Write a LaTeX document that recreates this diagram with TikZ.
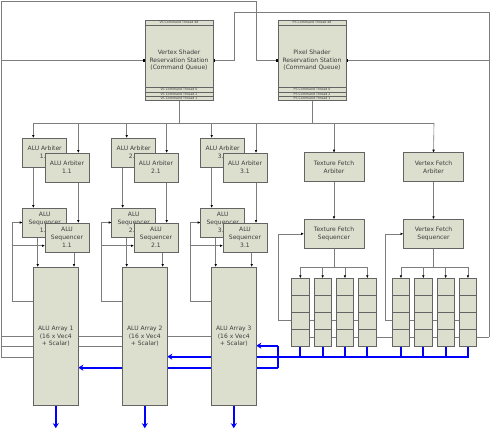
\documentclass[tikz,border=0pt]{standalone}
\usepackage{fontspec}
\setmainfont{DejaVu Sans}
\usetikzlibrary{arrows.meta}
\definecolor{boxfill}{RGB}{221,223,206}
\definecolor{boxline}{RGB}{100,100,100}
\definecolor{linegray}{RGB}{125,125,125}
\definecolor{txt}{RGB}{60,60,60}
\pgfdeclarelayer{bg}
\pgfsetlayers{bg,main}
\begin{document}
\begin{tikzpicture}[x=1pt,y=-1pt,
 box/.style={draw=boxline,fill=boxfill,line width=0.8pt,inner sep=0pt,outer sep=0pt,anchor=north west,align=center,text=txt,font=\fontsize{6}{7.7}\selectfont},
 abox/.style={box,minimum width=44pt,minimum height=29pt},
 fbox/.style={box,minimum width=60pt,minimum height=29pt},
 arrbox/.style={box,minimum width=45pt,minimum height=138.7pt},
 stripe/.style={draw=boxline,fill=boxfill,line width=0.5pt,inner sep=0pt,outer sep=0pt,anchor=north west,text=txt,font=\fontsize{3.2}{3.5}\selectfont,minimum width=68pt,minimum height=4.1pt},
 col/.style={draw=boxline,fill=boxfill,line width=0.8pt,inner sep=0pt,outer sep=0pt,anchor=north west,minimum width=17.3pt,minimum height=67.7pt},
 conn/.style={draw=linegray,line width=0.6pt},
 arr/.style={conn,-{Latex[length=3pt,width=2.6pt,color=black]}},
 dotarr/.style={conn,-{Square[length=2pt,width=2pt,color=black]}},
 bl/.style={draw=blue,line width=2pt},
 blarr/.style={bl,-{Stealth[length=5pt,width=6pt,inset=1.5pt]}},
]
\useasboundingbox (0,0) rectangle (490,431);

% ---------- shader boxes ----------
\node[box,minimum width=68pt,minimum height=79.3pt] (vs) at (145,20.7) {Vertex Shader\\Reservation Station\\(Command Queue)};
\node[stripe] (vsh) at (145,20.7) {VS Command Thread 48};
\node[stripe] (vsa) at (145,87.7) {VS Command Thread 0};
\node[stripe] (vsb) at (145,91.8) {VS Command Thread 2};
\node[stripe] (vsc) at (145,95.9) {VS Command Thread 1};
\node[box,minimum width=68pt,minimum height=79.3pt] (ps) at (278,20.7) {Pixel Shader\\Reservation Station\\(Command Queue)};
\node[stripe] (psh) at (278,20.7) {PS Command Thread 48};
\node[stripe] (psa) at (278,87.7) {PS Command Thread 0};
\node[stripe] (psb) at (278,91.8) {PS Command Thread 2};
\node[stripe] (psc) at (278,95.9) {PS Command Thread 1};

% ---------- ALU groups ----------
\node[abox] (arb10) at (22.7,138) {ALU Arbiter\\1.0};
\node[abox] (arb11) at (45,153) {ALU Arbiter\\1.1};
\node[abox] (sq10) at (22.7,208) {ALU\\Sequencer\\1.0};
\node[abox] (sq11) at (45,223) {ALU\\Sequencer\\1.1};
\node[arrbox] (arr1) at (33.3,267) {ALU Array 1\\(16 x Vec4\\+ Scalar)};

\node[abox] (arb20) at (111.7,138) {ALU Arbiter\\2.0};
\node[abox] (arb21) at (134,153) {ALU Arbiter\\2.1};
\node[abox] (sq20) at (111.7,208) {ALU\\Sequencer\\2.0};
\node[abox] (sq21) at (134,223) {ALU\\Sequencer\\2.1};
\node[arrbox] (arr2) at (122.3,267) {ALU Array 2\\(16 x Vec4\\+ Scalar)};

\node[abox] (arb30) at (200.7,138) {ALU Arbiter\\3.0};
\node[abox] (arb31) at (223,153) {ALU Arbiter\\3.1};
\node[abox] (sq30) at (200.7,208) {ALU\\Sequencer\\3.0};
\node[abox] (sq31) at (223,223) {ALU\\Sequencer\\3.1};
\node[arrbox] (arr3) at (211.3,267) {ALU Array 3\\(16 x Vec4\\+ Scalar)};

% ---------- fetch ----------
\node[fbox] (tfa) at (304,152.7) {Texture Fetch\\Arbiter};
\node[fbox] (tfs) at (304,219.3) {Texture Fetch\\Sequencer};
\node[fbox] (vfa) at (403.5,152.7) {Vertex Fetch\\Arbiter};
\node[fbox] (vfs) at (403.5,219.3) {Vertex Fetch\\Sequencer};

\foreach \i/\x in {1/291.7,2/314,3/336.3,4/358.7}{
  \node[col] (tc\i) at (\x,278.3) {};
  \foreach \k in {1,2,3}
    \draw[draw=boxline,line width=0.8pt] ({\x},{278.3+16.92*\k}) -- ({\x+17.3},{278.3+16.92*\k});
}
\foreach \i/\x in {1/392.3,2/414.7,3/437,4/459.3}{
  \node[col] (vc\i) at (\x,278.3) {};
  \foreach \k in {1,2,3}
    \draw[draw=boxline,line width=0.8pt] ({\x},{278.3+16.92*\k}) -- ({\x+17.3},{278.3+16.92*\k});
}

% ---------- coordinates ----------
\coordinate (busL) at (33.3,123);
\coordinate (busR) at (434,123);
\coordinate (Ltop) at (1,1);
\coordinate (Lbot) at (1,357);
\coordinate (PSin) at (256,1);
\coordinate (Rbot) at (489,337);
\coordinate (Rtop) at (489,12.3);
\coordinate (VSin) at (234,12.3);
\coordinate (g3) at (1,336);
\coordinate (g2) at (1,346);
\coordinate (lp1) at (12,301.7);
\coordinate (lp2) at (101,301.7);
\coordinate (lp3) at (189.8,301.7);
\coordinate (td) at (334,267.3);
\coordinate (vd) at (433.5,267.3);
\coordinate (tl) at (278.3,320.7);
\coordinate (vl) at (385,320.7);
\coordinate (bb) at (300,356.7);
\coordinate (bj) at (278.3,345.7);
\coordinate (bk) at (278.3,367.7);

\begin{pgfonlayer}{bg}
% top feedback lines
\draw[dotarr] (Lbot) -- (Ltop) -- (PSin) |- (ps.west);
\draw[dotarr] (vs.west -| Ltop) -- (vs.west);
\draw[dotarr] (Rbot) -- (Rtop) -- (VSin) |- (vs.east);
\draw[dotarr] (ps.east -| Rtop) -- (ps.east);
% bus
\draw[conn] (busL) -- (busR);
\draw[conn] (vs.south) -- (vs.south |- busL);
\draw[conn] (ps.south) -- (ps.south |- busL);
% arbiters
\draw[arr] ([xshift=10.6pt]arb10.north west |- busL) -- ([xshift=10.6pt]arb10.north west);
\draw[arr] ([xshift=-10.7pt]arb11.north east |- busL) -- ([xshift=-10.7pt]arb11.north east);
\draw[arr] ([xshift=15pt]arb20.north west |- busL) -- ([xshift=15pt]arb20.north west);
\draw[arr] ([xshift=-11.3pt]arb21.north east |- busL) -- ([xshift=-11.3pt]arb21.north east);
\draw[arr] ([xshift=11pt]arb30.north west |- busL) -- ([xshift=11pt]arb30.north west);
\draw[arr] ([xshift=-11pt]arb31.north east |- busL) -- ([xshift=-11pt]arb31.north east);
\draw[arr] (busR) -- (vfa.north);
\draw[arr] (tfa.north |- busL) -- (tfa.north);
% arbiter -> sequencer
\draw[arr] ([xshift=10.6pt]arb10.south west) -- ([xshift=10.6pt]sq10.north west);
\draw[arr] ([xshift=-10.7pt]arb11.south east) -- ([xshift=-10.7pt]sq11.north east);
\draw[arr] ([xshift=11pt]arb20.south west) -- ([xshift=11pt]sq20.north west);
\draw[arr] ([xshift=-11.3pt]arb21.south east) -- ([xshift=-11.3pt]sq21.north east);
\draw[arr] ([xshift=11pt]arb30.south west) -- ([xshift=11pt]sq30.north west);
\draw[arr] ([xshift=-11pt]arb31.south east) -- ([xshift=-11pt]sq31.north east);
\draw[arr] (tfa.south) -- (tfs.north);
\draw[arr] (vfa.south) -- (vfs.north);
% sequencer -> array
\draw[arr] ([xshift=15pt]sq10.south west) -- ([xshift=15pt]sq10.south west |- arr1.north);
\draw[arr] ([xshift=-15pt]sq11.south east) -- ([xshift=-15pt]sq11.south east |- arr1.north);
\draw[arr] ([xshift=15pt]sq20.south west) -- ([xshift=15pt]sq20.south west |- arr2.north);
\draw[arr] ([xshift=-15.3pt]sq21.south east) -- ([xshift=-15.3pt]sq21.south east |- arr2.north);
\draw[arr] ([xshift=15pt]sq30.south west) -- ([xshift=15pt]sq30.south west |- arr3.north);
\draw[arr] ([xshift=-15.3pt]sq31.south east) -- ([xshift=-15.3pt]sq31.south east |- arr3.north);
% loops
\draw[conn] (arr1.west |- lp1) -- (lp1);
\draw[arr] (lp1) |- (sq10.west);
\draw[arr] (lp1) |- ([yshift=-8.2pt]sq11.west);
\draw[conn] (arr2.west |- lp2) -- (lp2);
\draw[arr] (lp2) |- (sq20.west);
\draw[arr] (lp2) |- ([yshift=-8.2pt]sq21.west);
\draw[conn] (arr3.west |- lp3) -- (lp3);
\draw[arr] (lp3) |- (sq30.west);
\draw[arr] (lp3) |- ([yshift=-8.2pt]sq31.west);
% array feedback to left edge
\draw[conn] (g3) -- (arr3.west |- g3);
\draw[conn] (g2) -- (arr2.west |- g2);
\draw[conn] (Lbot) -- (arr1.west |- Lbot);
% fetch distribution
\draw[conn] (tfs.south) -- (td);
\draw[conn] (tc1.north |- td) -- (tc4.north |- td);
\foreach \i in {1,...,4} \draw[arr] (tc\i.north |- td) -- (tc\i.north);
\draw[conn] (vfs.south) -- (vd);
\draw[conn] (vc1.north |- vd) -- (vc4.north |- vd);
\foreach \i in {1,...,4} \draw[arr] (vc\i.north |- vd) -- (vc\i.north);
% fetch loops
\draw[arr] (tl) |- (tfs.west);
\draw[conn] (tl) -- (tc4.center |- tl);
\draw[arr] (vl) |- (vfs.west);
\draw[conn] (vl) -- (vc4.center |- vl);
\draw[conn] (Rbot) -- (tc1.center |- Rbot);
% blue
\foreach \i in {1,...,4} \draw[bl] (tc\i.south) -- (tc\i.south |- bb);
\foreach \i in {1,...,4} \draw[bl] (vc\i.south) -- (vc\i.south |- bb);
\draw[blarr] ([xshift=1pt]vc4.south |- bb) -- (arr2.east |- bb);
\draw[blarr] (bj) -- (arr3.east |- bj);
\draw[bl] (bj) -- (bk);
\draw[blarr] (bk) -- (arr1.east |- bk);
\draw[blarr] (arr1.south) -- ++(0,22.5);
\draw[blarr] (arr2.south) -- ++(0,22.5);
\draw[blarr] (arr3.south) -- ++(0,22.5);
\end{pgfonlayer}
\end{tikzpicture}
\end{document}
